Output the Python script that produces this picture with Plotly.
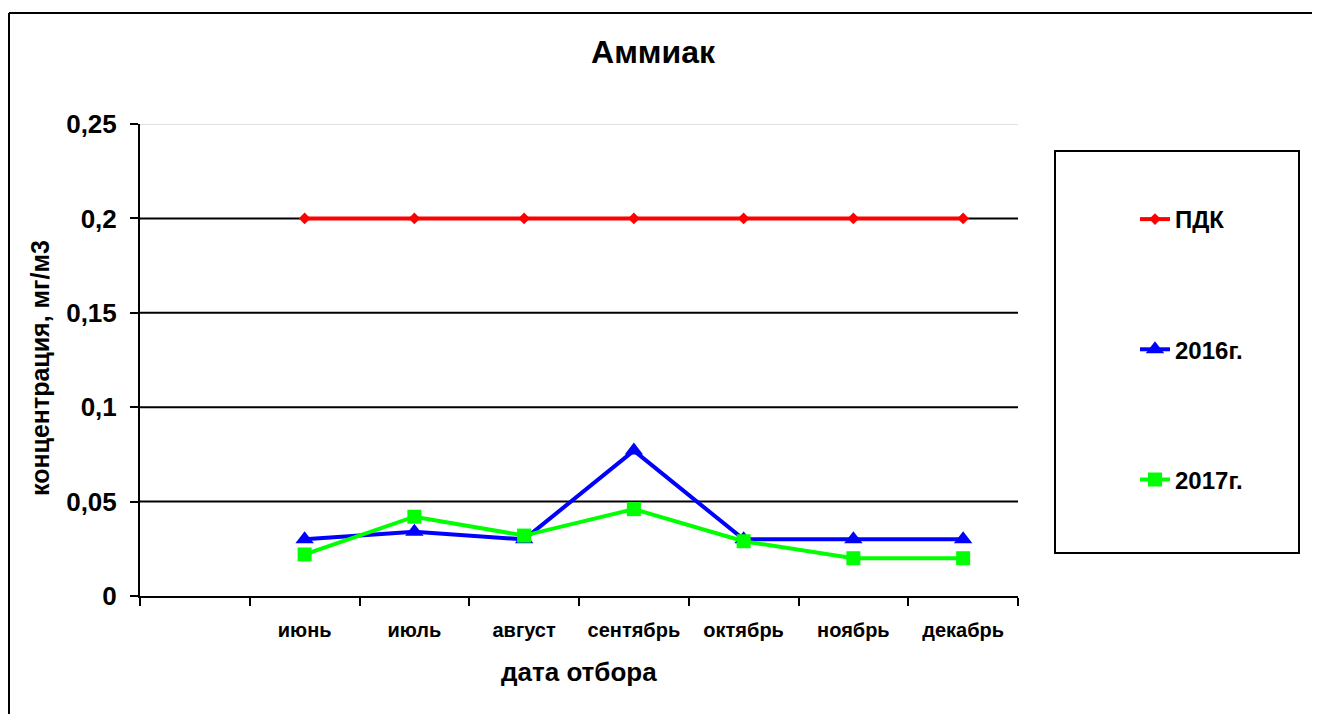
import plotly.graph_objects as go

months = ["июнь", "июль", "август", "сентябрь", "октябрь", "ноябрь", "декабрь"]
blank_category = " "
pdk = [0.2, 0.2, 0.2, 0.2, 0.2, 0.2, 0.2]
y2016 = [0.030, 0.034, 0.030, 0.077, 0.030, 0.030, 0.030]
y2017 = [0.022, 0.042, 0.032, 0.046, 0.029, 0.020, 0.020]
y_ticks = [0, 0.05, 0.1, 0.15, 0.2, 0.25]
y_tick_text = ["0", "0,05", "0,1", "0,15", "0,2", "0,25"]

OFF = 8  # page body margin
W, H = 1320 - 2 * OFF, 722 - 2 * OFF
L, T = 140 - OFF, 124 - OFF
R = W - (1018 - OFF)
B = H - (596 - OFF)
pw, ph = W - L - R, H - T - B

def px(x):
    return (x - OFF - L) / pw

def py(y):
    return (H - B - (y - OFF)) / ph

FONT = "Liberation Sans, Arial, sans-serif"

fig = go.Figure()
fig.add_trace(go.Scatter(x=[blank_category], y=[None], mode="markers",
                         showlegend=False, hoverinfo="skip"))
fig.add_trace(go.Scatter(x=months, y=pdk, name="ПДК", legendgroup="a",
                         mode="lines+markers",
                         line=dict(color="#FF0000", width=4),
                         marker=dict(symbol="diamond", size=9, color="#FF0000")))
fig.add_trace(go.Scatter(x=months, y=y2016, name="2016г.", legendgroup="b",
                         mode="lines+markers",
                         line=dict(color="#0000FF", width=4),
                         marker=dict(symbol="triangle-up", size=16, color="#0000FF")))
fig.add_trace(go.Scatter(x=months, y=y2017, name="2017г.", legendgroup="c",
                         mode="lines+markers",
                         line=dict(color="#00FF00", width=4),
                         marker=dict(symbol="square", size=14, color="#00FF00")))

shapes = []
for v in y_ticks[1:]:
    shapes.append(dict(type="line", xref="paper", yref="y", x0=0, x1=1, y0=v, y1=v,
                       line=dict(color="#000000" if v < 0.25 else "#C0C0C0",
                                 width=2 if v < 0.25 else 1),
                       layer="below"))
# legend box
shapes.append(dict(type="rect", xref="paper", yref="paper",
                   x0=px(1055), x1=px(1299), y0=py(553), y1=py(151),
                   line=dict(color="#000000", width=2), fillcolor="rgba(0,0,0,0)"))
# outer chart border (left and top edges; others are outside the view)
shapes.append(dict(type="line", xref="paper", yref="paper",
                   x0=px(9), x1=px(9), y0=py(740), y1=py(13),
                   line=dict(color="#000000", width=2)))
shapes.append(dict(type="line", xref="paper", yref="paper",
                   x0=px(9), x1=px(1340), y0=py(13), y1=py(13),
                   line=dict(color="#000000", width=2)))

annotations = [
    dict(text="концентрация, мг/м3", xref="paper", yref="paper",
         x=px(40), y=py(368), textangle=-90, showarrow=False,
         font=dict(family=FONT, size=25, color="#000000", weight="bold"),
         xanchor="center", yanchor="middle"),
    dict(text="дата отбора", xref="paper", yref="paper",
         x=px(579), y=py(672), showarrow=False,
         font=dict(family=FONT, size=26, color="#000000", weight="bold"),
         xanchor="center", yanchor="middle"),
]

fig.update_layout(
    width=W, height=H,
    margin=dict(l=L, r=R, t=T, b=B),
    paper_bgcolor="#FFFFFF", plot_bgcolor="#FFFFFF",
    title=dict(text="Аммиак", x=px(653), xref="paper", xanchor="center",
               y=1 - (52 - OFF) / H, yanchor="middle",
               font=dict(family=FONT, size=32, color="#000000", weight="bold")),
    font=dict(family=FONT, color="#000000"),
    shapes=shapes,
    annotations=annotations,
    showlegend=True,
    legend=dict(x=px(1135), y=py(197), xanchor="left", yanchor="top",
                bgcolor="rgba(0,0,0,0)", borderwidth=0,
                tracegroupgap=96,
                font=dict(family=FONT, size=24, color="#000000", weight="bold")),
)
fig.update_xaxes(type="category", categoryorder="array",
                 categoryarray=[blank_category] + months,
                 range=[-0.5, 7.5], tickson="boundaries",
                 ticks="outside", ticklen=8, tickwidth=2, tickcolor="#000000",
                 showline=True, linecolor="#000000", linewidth=2,
                 showgrid=False, zeroline=False,
                 ticklabelstandoff=15,
                 tickfont=dict(family=FONT, size=20, color="#000000", weight="bold"))
fig.update_yaxes(range=[0, 0.25], tickvals=y_ticks, ticktext=y_tick_text,
                 ticks="outside", ticklen=8, tickwidth=2, tickcolor="#000000",
                 showline=True, linecolor="#000000", linewidth=2,
                 showgrid=False, zeroline=False,
                 ticklabelstandoff=8,
                 tickfont=dict(family=FONT, size=26, color="#000000", weight="bold"))

fig.write_html("out.html")
